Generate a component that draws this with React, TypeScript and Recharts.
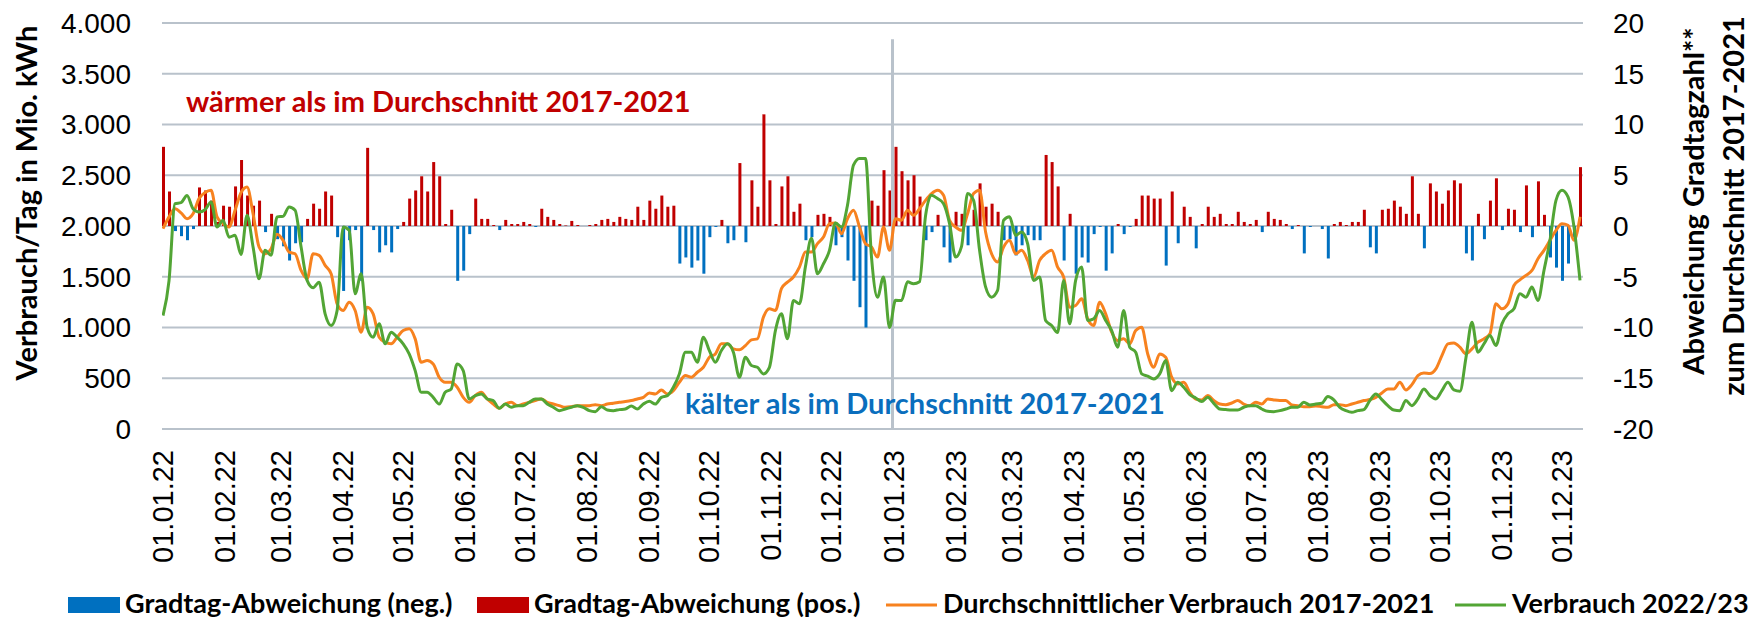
import { ComposedChart, Bar, Line, XAxis, YAxis, CartesianGrid, ReferenceLine, Legend } from 'recharts';

// one sample every 3 days, first sample = 01.01.2022
const STEP = 3;

// Abweichung Gradtagzahl zum Durchschnitt 2017-2021
const deviation = [
  7.8, 3.4, -0.5, -1.0, -1.4, -0.3, 3.8, 3.5, 2.5, 0.4, 2.0, 1.9,
  3.9, 6.5, 3.0, 2.0, 2.5, -0.6, 1.2, -1.3, -2.0, -3.4, -1.7, -1.6,
  0.7, 2.2, 1.7, 3.4, 3.0, -1.1, -6.4, -1.4, -0.4, -5.4, 7.7, -0.4,
  -2.6, -1.9, -2.6, -0.3, 0.4, 2.7, 3.5, 4.9, 3.4, 6.3, 4.9, 0.2,
  1.6, -5.4, -4.4, -0.8, 2.7, 0.7, 0.7, 0.1, -0.4, 0.6, 0.2, 0.2,
  0.4, 0.2, -0.1, 1.7, 0.9, 0.6, 0.2, 0.05, 0.5, 0.1, 0, 0.1,
  0.2, 0.6, 0.7, 0.4, 0.9, 0.7, 0.6, 1.9, 0.6, 2.5, 1.7, 3.0,
  1.9, 2.0, -3.7, -3.1, -4.1, -3.4, -4.7, -1.1, -0.1, 0.6, -1.7, -1.4,
  6.2, -1.6, 4.5, 1.9, 11.0, 4.5, 0.2, 3.9, 4.9, 1.4, 2.2, -1.4,
  -1.1, 1.1, 1.2, 0.9, -1.9, -1.1, -3.4, -5.4, -8.0, -10.0, 2.5, 2.0,
  5.5, 3.5, 7.8, 5.4, 4.5, 5.0, 2.9, -1.4, -0.6, 1.1, -2.1, -3.6,
  1.4, 1.2, -1.9, 1.6, 4.2, 1.9, 2.2, 1.4, -1.4, -1.3, -2.9, -1.9,
  -0.9, -1.4, -1.4, 7.0, 6.3, 3.9, -3.4, 1.2, -4.7, -3.1, -3.6, -0.8,
  -0.1, -4.4, -2.7, 0.2, -0.8, -0.1, 0.7, 3.0, 3.0, 2.7, 2.7, -3.9,
  3.4, -1.7, 1.9, 0.9, -2.2, 0.2, 1.9, 0.9, 1.2, 0.2, 0.2, 1.4,
  0.4, 0.2, 0.6, -0.6, 1.4, 0.7, 0.6, 0.2, -0.3, 0.1, -2.7, -0.1,
  0, -0.3, -3.2, 0.2, 0.4, 0.1, 0.4, 0.4, 1.6, -2.1, -2.7, 1.6,
  1.7, 2.5, 1.9, 1.2, 4.9, 1.2, -2.2, 4.2, 3.4, 2.2, 3.5, 4.5,
  4.2, -2.7, -3.4, 1.2, -1.3, 2.5, 4.7, -0.4, 1.7, 1.6, -0.6, 4.0,
  -1.1, 4.4, 1.1, -3.1, -4.1, -5.4, -3.7, -1.1, 5.8,
];

// Durchschnittlicher Verbrauch 2017-2021 (Mio. kWh/Tag)
const avgConsumption = [
  1974, 2090, 2170, 2130, 2072, 2120, 2270, 2330, 2352, 2090, 2023, 1990,
  2155, 2330, 2385, 2120, 1793, 1727, 1776, 1918, 1859, 1743, 1727, 1562,
  1480, 1727, 1711, 1612, 1530, 1233, 1168, 1250, 1168, 954, 1200, 1135,
  904, 855, 839, 904, 970, 987, 888, 658, 674, 641, 510, 460,
  460, 411, 312, 263, 329, 362, 296, 246, 204, 246, 263, 230,
  246, 263, 280, 296, 263, 246, 230, 214, 220, 230, 230, 230,
  240, 230, 246, 253, 263, 270, 280, 296, 312, 355, 345, 385,
  345, 378, 460, 526, 510, 559, 608, 707, 740, 839, 839, 789,
  780, 822, 878, 888, 1102, 1184, 1168, 1382, 1447, 1497, 1595, 1743,
  1743, 1826, 1891, 2023, 2030, 1924, 2072, 2155, 1990, 1826, 1793, 1694,
  1990, 1760, 2072, 2056, 2155, 2105, 2170, 2253, 2319, 2352, 2303, 2056,
  1990, 1957, 2120, 2319, 2352, 1941, 1727, 1645, 1793, 1859, 1727, 1760,
  1661, 1497, 1661, 1727, 1760, 1595, 1497, 1200, 1217, 1283, 1085, 1020,
  1250, 1135, 954, 872, 888, 839, 970, 1003, 740, 608, 740, 707,
  510, 444, 460, 362, 296, 286, 329, 280, 246, 240, 256, 280,
  246, 230, 263, 246, 296, 286, 280, 280, 237, 230, 220, 220,
  227, 220, 214, 240, 240, 230, 246, 263, 280, 290, 312, 355,
  395, 395, 460, 385, 437, 526, 552, 546, 592, 723, 839, 848,
  806, 740, 789, 855, 888, 937, 1233, 1184, 1233, 1414, 1470, 1513,
  1562, 1678, 1760, 1859, 1957, 2023, 2007, 1859, 2090,
];

// Verbrauch 2022/23 (Mio. kWh/Tag)
const consumption = [
  1118, 1460, 2220, 2230, 2300, 2170, 2138, 2160, 2237, 1990, 2056, 1890,
  1908, 1720, 2105, 1793, 1480, 1760, 1711, 2090, 2095, 2187, 2155, 1793,
  1464, 1392, 1447, 1135, 1020, 1168, 1990, 1957, 1332, 1530, 1003, 904,
  1036, 839, 954, 904, 839, 740, 575, 362, 362, 312, 246, 362,
  395, 641, 575, 296, 329, 345, 296, 280, 204, 246, 214, 230,
  230, 263, 296, 296, 246, 214, 181, 197, 214, 230, 214, 181,
  171, 220, 187, 181, 191, 197, 227, 197, 246, 273, 246, 312,
  329, 411, 543, 757, 757, 658, 904, 773, 658, 773, 839, 757,
  510, 707, 625, 608, 543, 608, 970, 1135, 888, 1266, 1233, 1600,
  1880, 1530, 1628, 1760, 2030, 1990, 2204, 2599, 2665, 2665, 1694, 1299,
  1497, 1000, 1268, 1266, 1450, 1431, 1450, 2100, 2303, 2270, 2220, 2023,
  1694, 1800, 2320, 2253, 1760, 1400, 1299, 1365, 2056, 2090, 1908, 1941,
  1826, 1464, 1497, 1069, 1020, 950, 1464, 1036, 1464, 1595, 1069, 1085,
  1168, 1069, 970, 806, 1168, 806, 757, 543, 520, 493, 543, 674,
  378, 460, 411, 339, 306, 270, 312, 253, 197, 191, 187, 187,
  214, 230, 230, 197, 174, 171, 181, 197, 214, 214, 263, 237,
  246, 253, 319, 286, 214, 181, 164, 181, 191, 280, 345, 290,
  230, 187, 181, 280, 230, 296, 395, 329, 296, 378, 460, 385,
  372, 700, 1052, 757, 839, 921, 822, 1036, 1135, 1184, 1332, 1299,
  1398, 1266, 1562, 1859, 2253, 2352, 2286, 1990, 1464,
];

const monthTicks = [0, 31, 59, 90, 120, 151, 181, 212, 243, 273, 304, 334, 365, 396, 424, 455, 485, 516, 546, 577, 608, 638, 669, 699];
const monthLabels = [
  '01.01.22', '01.02.22', '01.03.22', '01.04.22', '01.05.22', '01.06.22', '01.07.22', '01.08.22', '01.09.22', '01.10.22', '01.11.22', '01.12.22',
  '01.01.23', '01.02.23', '01.03.23', '01.04.23', '01.05.23', '01.06.23', '01.07.23', '01.08.23', '01.09.23', '01.10.23', '01.11.23', '01.12.23',
];
const leftTicks = [0, 500, 1000, 1500, 2000, 2500, 3000, 3500, 4000];
const leftTickLabels = ['0', '500', '1.000', '1.500', '2.000', '2.500', '3.000', '3.500', '4.000'];
const rightTicks = [-20, -15, -10, -5, 0, 5, 10, 15, 20];

const legendLabels = ['Gradtag-Abweichung (neg.)', 'Gradtag-Abweichung (pos.)', 'Durchschnittlicher Verbrauch 2017-2021', 'Verbrauch 2022/23'];

const BLUE = '#0070C0';
const RED = '#C00000';
const ORANGE = '#F7821F';
const GREEN = '#52A535';
const GRID = '#B9C2CB';
const BOLD = 'Lato, "Noto Sans", sans-serif';
const TICK = '"Liberation Sans", Arial, sans-serif';

const data = deviation.map((v, i) => ({
  day: i * STEP,
  pos: v > 0 ? v : 0,
  neg: v < 0 ? v : 0,
  avg: avgConsumption[i],
  cons: consumption[i],
}));

const MonthTick = (props: any) => {
  const { x, payload } = props;
  const label = monthLabels[monthTicks.indexOf(payload.value)];
  return (
    <text
      transform={`translate(${x},450) rotate(-90)`}
      textAnchor="end"
      dominantBaseline="central"
      fontSize={29}
      fontFamily={TICK}
      fill="#000"
    >
      {label}
    </text>
  );
};

const legendX = [68, 477, 886, 1455];
const legendColors = [BLUE, RED, ORANGE, GREEN];

const renderLegend = () => (
  <svg width={1749} height={32} style={{ display: 'block', overflow: 'visible' }}>
    {legendLabels.map((label, i) => {
      const x = legendX[i];
      return (
        <g key={label}>
          {i < 2 ? (
            <rect x={x} y={10} width={52} height={16} fill={legendColors[i]} />
          ) : (
            <line x1={x} x2={x + 51} y1={18} y2={18} stroke={legendColors[i]} strokeWidth={3} />
          )}
          <text x={x + 57} y={26} fontSize={27} fontWeight="bold" fontFamily={BOLD} fill="#000">
            {label}
          </text>
        </g>
      );
    })}
  </svg>
);

export default function App() {
  return (
    <div style={{ position: 'absolute', left: 0, top: 0, width: 1749, height: 619, background: '#fff', overflow: 'hidden' }}>
      <ComposedChart width={1749} height={619} data={data} margin={{ top: 23, right: 0, bottom: 0, left: 0 }}>
        <CartesianGrid yAxisId="left" vertical={false} stroke={GRID} strokeWidth={2} />
        <XAxis
          type="number"
          dataKey="day"
          domain={[-0.5, 709.5]}
          ticks={monthTicks}
          interval={0}
          tick={MonthTick}
          tickLine={false}
          axisLine={{ stroke: GRID, strokeWidth: 2 }}
          height={190}
          allowDataOverflow
        />
        <YAxis
          yAxisId="left"
          domain={[0, 4000]}
          ticks={leftTicks}
          interval={0}
          width={162}
          tickSize={0}
          tickMargin={31}
          axisLine={false}
          tickLine={false}
          tickFormatter={(v: number) => leftTickLabels[leftTicks.indexOf(v)]}
          tick={{ fontSize: 28, fill: '#000', fontFamily: TICK }}
        />
        <YAxis
          yAxisId="right"
          orientation="right"
          domain={[-20, 20]}
          ticks={rightTicks}
          interval={0}
          width={166}
          tickSize={0}
          tickMargin={30}
          axisLine={false}
          tickLine={false}
          tick={{ fontSize: 28, fill: '#000', fontFamily: TICK }}
        />
        <Bar yAxisId="right" dataKey="neg" stackId="dev" fill={BLUE} barSize={3} isAnimationActive={false} />
        <Bar yAxisId="right" dataKey="pos" stackId="dev" fill={RED} barSize={3} isAnimationActive={false} />
        <ReferenceLine
          yAxisId="left"
          segment={[{ x: 364.5, y: 0 }, { x: 364.5, y: 3840 }]}
          stroke={GRID}
          strokeWidth={3}
        />
        <Line yAxisId="left" type="monotone" dataKey="avg" stroke={ORANGE} strokeWidth={3} dot={false} isAnimationActive={false} />
        <Line yAxisId="left" type="monotone" dataKey="cons" stroke={GREEN} strokeWidth={3} dot={false} isAnimationActive={false} />
        <Legend
          layout="horizontal"
          verticalAlign="middle"
          align="center"
          content={renderLegend}
          wrapperStyle={{ top: 587, left: 0, width: 1749, height: 32 }}
        />
      </ComposedChart>
      <svg width={1749} height={619} style={{ position: 'absolute', left: 0, top: 0, pointerEvents: 'none' }}>
        <text transform="translate(37,203) rotate(-90)" textAnchor="middle" fontSize={29} fontWeight="bold" fontFamily={BOLD} fill="#000">
          Verbrauch/Tag in Mio. kWh
        </text>
        <text transform="translate(1704,201) rotate(-90)" textAnchor="middle" fontSize={29} fontWeight="bold" fontFamily={BOLD} fill="#000">
          Abweichung Gradtagzahl**
        </text>
        <text transform="translate(1744,206) rotate(-90)" textAnchor="middle" fontSize={29} fontWeight="bold" fontFamily={BOLD} fill="#000">
          zum Durchschnitt 2017-2021
        </text>
        <text x={186} y={112} fontSize={29} fontWeight="bold" fontFamily={BOLD} fill={RED}>
          wärmer als im Durchschnitt 2017-2021
        </text>
        <text x={685} y={414} fontSize={29} fontWeight="bold" fontFamily={BOLD} fill="#0A6EBD">
          kälter als im Durchschnitt 2017-2021
        </text>
      </svg>
    </div>
  );
}
